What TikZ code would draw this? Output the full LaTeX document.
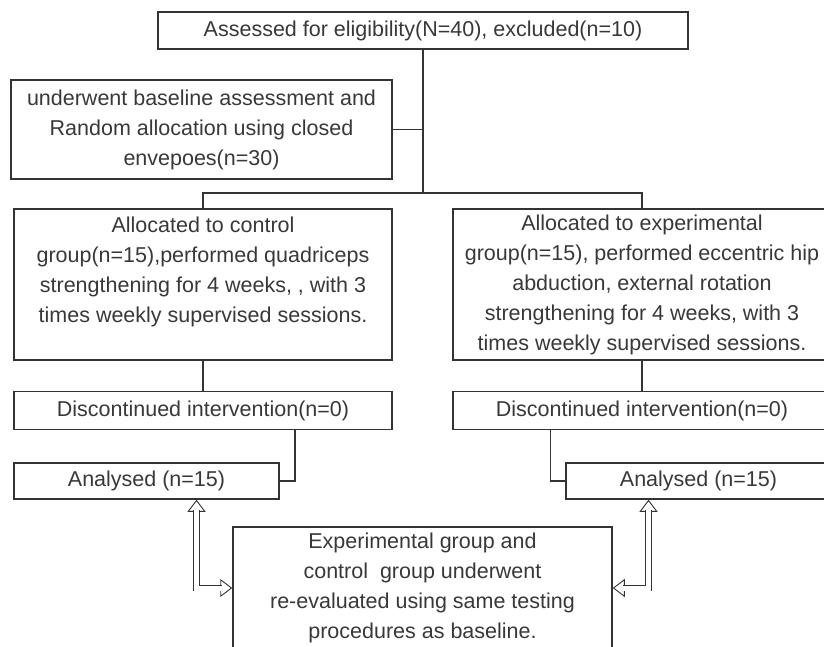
\documentclass[tikz,border=0pt]{standalone}
\usepackage{fontspec}
\setmainfont{Liberation Sans}
\usetikzlibrary{arrows.meta,positioning}

\begin{document}
\begin{tikzpicture}[
    x=1pt, y=1pt,
    node distance=30pt,
    box/.style={rectangle, draw=black!80, line width=1.5pt, inner sep=0pt, align=center, text=black!78, font=\fontsize{21.5}{30}\selectfont},
    line/.style={draw=black!80, line width=1.5pt},
    dblline/.style={draw=black!80, line width=0.9pt, double=white, double distance=5pt, shorten <=10.5pt, shorten >=10.5pt},
    hollowtip/.style={-{Triangle[open, fill=white, length=12pt, width=18pt]}, draw=black!80, line width=0.9pt}
]
    \useasboundingbox (0,0) rectangle (824,-646);
    \clip (0,0) rectangle (824,-646);

    % Eligibility
    \node[box, minimum width=530pt, minimum height=37pt] (elig) at (423,-30.5) {Assessed for eligibility(N=40), excluded(n=10)};

    % Baseline and randomisation
    \node[box, minimum width=381pt, minimum height=99pt] (base) at (201.5,-129.5) {underwent baseline assessment and\\Random allocation using closed\\envepoes(n=30)};

    % Control group
    \node[box, minimum width=378pt, minimum height=151pt] (ctrl) at (203,-284.5) {Allocated to control\\group(n=15),performed quadriceps\\strengthening for 4 weeks, , with 3\\times weekly supervised sessions.\\ \mbox{}};

    % Experimental group
    \node[box, minimum width=378pt, minimum height=151pt] (expt) at (642,-284.5) {Allocated to experimental\\group(n=15), performed eccentric hip\\abduction, external rotation\\strengthening for 4 weeks, with 3\\times weekly supervised sessions.};

    % Discontinued
    \node[box, minimum width=378pt, minimum height=38pt, below=of ctrl] (disc_c) {Discontinued intervention(n=0)};
    \node[box, minimum width=378pt, minimum height=38pt, below=of expt] (disc_e) {Discontinued intervention(n=0)};

    % Analysed
    \node[box, minimum width=265pt, minimum height=36pt, below=32pt of disc_c.south west, anchor=north west] (anal_c) {Analysed (n=15)};
    \node[box, minimum width=265pt, minimum height=36pt, below=32pt of disc_e.south east, anchor=north east] (anal_e) {Analysed (n=15)};

    % Re-evaluation
    \node[box, minimum width=379pt, minimum height=122pt] (reeval) at (422.5,-588) {Experimental group and\\control\ \ group underwent\\re-evaluated using same testing\\procedures as baseline.};

    % Joints
    \coordinate (split) at (elig.south |- 0,-193);
    \coordinate (knee_c) at ([xshift=15pt]anal_c.east |- disc_c.south);
    \coordinate (knee_e) at ([xshift=-15pt]anal_e.west |- disc_e.south);
    \coordinate (foot_c) at ([xshift=50pt]anal_c.south);
    \coordinate (foot_e) at ([xshift=-50pt]anal_e.south);

    % Lines
    \draw[line] (elig) -- (split);
    \draw[line] (base.east) -- (base.east -| elig.south);
    \draw[line] (ctrl.north) |- (split) -| (expt.north);
    \draw[line] (ctrl) -- (disc_c);
    \draw[line] (expt) -- (disc_e);
    \draw[line] (knee_c) |- (anal_c.east);
    \draw[line] (knee_e) |- (anal_e.west);

    % Arrows
    \draw[hollowtip] ([yshift=-12pt]foot_c) -- (foot_c);
    \draw[hollowtip] ([xshift=-12pt]reeval.west) -- (reeval.west);
    \draw[hollowtip] ([yshift=-12pt]foot_e) -- (foot_e);
    \draw[hollowtip] ([xshift=12pt]reeval.east) -- (reeval.east);
    \draw[dblline] (foot_c) |- (reeval.west);
    \draw[dblline] (foot_e) |- (reeval.east);

\end{tikzpicture}
\end{document}
